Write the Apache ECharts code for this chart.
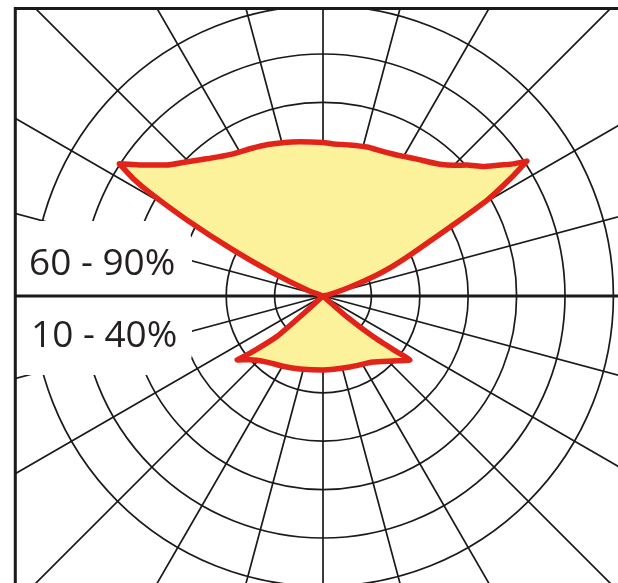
<!DOCTYPE html>
<html>
<head>
<meta charset="utf-8">
<script src="https://cdn.jsdelivr.net/npm/echarts@6/dist/echarts.min.js"></script>
<style>
html, body { margin: 0; padding: 0; background: #fff; }
#chart { width: 618px; height: 583px; }
</style>
</head>
<body>
<div id="chart"></div>
<script>
// angles in degrees (0 = right, counter-clockwise), radius in grid rings
var upperAngle = [12, 14, 18, 20.8, 23, 25.5, 28.5, 30.3, 32, 33.5, 35, 36.5, 39, 42.3, 45, 48.4, 52, 55.5, 60, 63.8, 68, 73.5, 80, 86, 90,
  98.5, 104, 110, 116, 122, 127, 132, 136, 140, 143.5, 147, 148.3, 149.2, 150.8, 152.9, 155.3, 159.4, 165]
var upperRadius = [0, 0.15, 0.55, 1.1, 1.55, 2.06, 2.99, 3.93, 4.55, 5.05, 4.75, 4.55, 4.25, 4.02, 3.82, 3.64, 3.52, 3.43, 3.33, 3.27, 3.23, 3.21, 3.17, 3.15, 3.17,
  3.22, 3.27, 3.33, 3.39, 3.47, 3.6, 3.79, 3.98, 4.21, 4.55, 5.02, 4.6, 4.16, 3.22, 2.09, 1.14, 0.35, 0]
var lowerAngle = [224, 222, 221.3, 218.5, 216.7, 221.2, 229.7, 240.3, 252.5, 270, 290.8, 307.1, 317.1, 323.7, 322.9, 321, 318.9, 317]
var lowerRadius = [0, 0.64, 1.27, 1.82, 2.21, 2.0, 1.79, 1.67, 1.58, 1.53, 1.57, 1.71, 1.97, 2.23, 1.91, 1.34, 0.65, 0]
var labels = ['60 - 90%', '10 - 40%']

var cx = 323,
  cy = 296,
  ring = 48.4, // px per ring
  rings = 9,
  shownRings = 6
var gridColor = '#1a1a1a'

function pairs(angles, radii) {
  return angles.map(function(a, i) {
    return [radii[i], a]
  })
}

// only the first rings get a visible circle
var ringColors = []
for (var i = 0; i <= rings; i++) {
  ringColors.push(i > 0 && i <= shownRings ? gridColor : 'rgba(0,0,0,0)')
}

var chart = echarts.init(document.getElementById('chart'))
var lobeStyle = {
  type: 'line',
  coordinateSystem: 'polar',
  symbol: 'none',
  smooth: 0.2,
  lineStyle: { color: '#e2231a', width: 5.5, join: 'round', cap: 'round' },
  areaStyle: { color: '#fdf29c', opacity: 1 },
  z: 3
}
var option = {
  animation: false,
  backgroundColor: '#fff',
  polar: {
    center: [cx, cy],
    radius: ring * rings
  },
  angleAxis: {
    type: 'value',
    min: 0,
    max: 360,
    interval: 15,
    startAngle: 0,
    clockwise: false,
    axisLine: { show: false },
    axisTick: { show: false },
    axisLabel: { show: false },
    splitLine: { show: true, lineStyle: { color: gridColor, width: 1.7 } }
  },
  radiusAxis: {
    type: 'value',
    min: 0,
    max: rings,
    interval: 1,
    axisLine: { show: false },
    axisTick: { show: false },
    axisLabel: { show: false },
    splitLine: { show: true, lineStyle: { color: ringColors, width: 1.7 } }
  },
  series: [
    Object.assign({ name: labels[0], data: pairs(upperAngle, upperRadius) }, lobeStyle),
    Object.assign({ name: labels[1], data: pairs(lowerAngle, lowerRadius) }, lobeStyle)
  ],
  graphic: [
    // white knock-out behind the labels
    {
      type: 'rect',
      z: 1,
      z2: 1,
      shape: { x: 15, y: 221, width: 177, height: 154, r: [0, 22, 22, 0] },
      style: { fill: '#fff' }
    },
    // heavy horizontal axis
    {
      type: 'line',
      z: 1,
      z2: 2,
      shape: { x1: 15, y1: cy, x2: 618, y2: cy },
      style: { stroke: gridColor, lineWidth: 3 }
    },
    // clip everything outside the frame
    { type: 'rect', z: 20, shape: { x: 0, y: 0, width: 14, height: 583 }, style: { fill: '#fff' } },
    { type: 'rect', z: 20, shape: { x: 0, y: 0, width: 618, height: 7 }, style: { fill: '#fff' } },
    {
      type: 'polyline',
      z: 21,
      shape: { points: [[15.3, 583], [15.3, 8.5], [618, 8.5]] },
      style: { stroke: '#1a1a1a', lineWidth: 3, fill: null }
    },
    {
      type: 'text',
      z: 22,
      x: 29,
      y: 264,
      style: { text: labels[0], font: '37px "Open Sans"', fill: '#231f20', verticalAlign: 'middle' }
    },
    {
      type: 'text',
      z: 22,
      x: 31,
      y: 336,
      style: { text: labels[1], font: '37px "Open Sans"', fill: '#231f20', verticalAlign: 'middle' }
    }
  ]
}
chart.setOption(option)
</script>
</body>
</html>
